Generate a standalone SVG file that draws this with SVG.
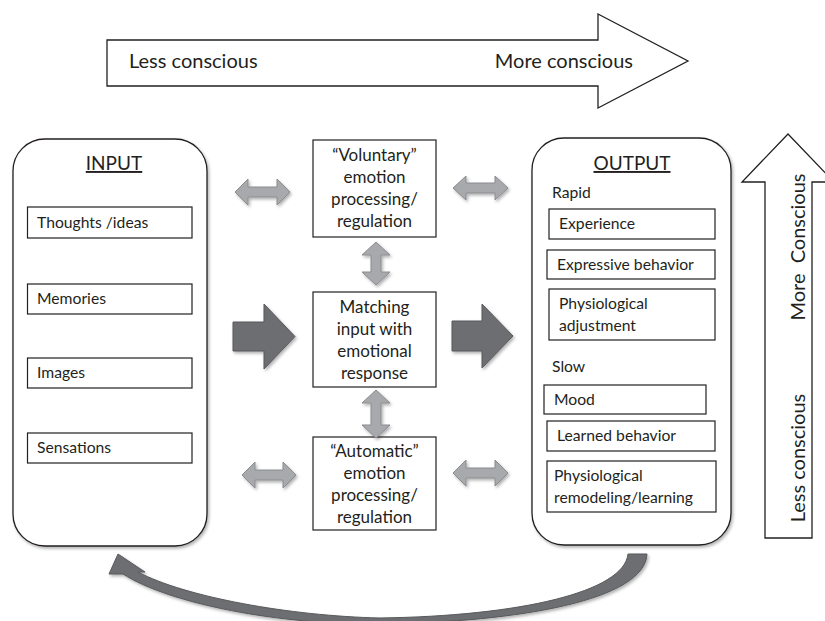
<svg xmlns="http://www.w3.org/2000/svg" width="825" height="621" viewBox="0 0 825 621">
<defs>
<filter id="sh" x="-20%" y="-20%" width="140%" height="140%">
<feDropShadow dx="1.5" dy="2" stdDeviation="1.5" flood-color="#000" flood-opacity="0.3"/>
</filter>
<style>
text{font-family:Lato,"Open Sans","Liberation Sans",sans-serif;fill:#231f20}
.t{font-size:15.7px}
.c{font-size:17px;text-anchor:middle}
.h{font-size:19px;text-anchor:middle;text-decoration:underline}
.big{font-size:20px}
.rot{font-size:20px;text-anchor:middle}
.box{fill:#fff;stroke:#231f20;stroke-width:1.2}
.panel{fill:#fff;stroke:#231f20;stroke-width:1.3}
.dbl{fill:#a7a9ac;stroke:#8a8c8f;stroke-width:1}
.dark{fill:#6d6e71;stroke:#58595b;stroke-width:1}
.outline{fill:#fff;stroke:#231f20;stroke-width:1.3}
</style>
</defs>

<g id="top-arrow">
<path class="outline" d="M107 40 L598 40 L598 14 L688 61 L598 108 L598 86 L107 86 Z"/>
<text class="big" x="129" y="68">Less conscious</text>
<text class="big" x="633" y="68" text-anchor="end">More conscious</text>
</g>

<g id="input">
<rect class="panel" x="13" y="139" width="194" height="407" rx="32" ry="32" filter="url(#sh)"/>
<text class="h" x="114" y="170">INPUT</text>
<g id="in-thoughts"><rect class="box" x="27.5" y="207" width="164.5" height="31"/><text class="t" x="37" y="228">Thoughts /ideas</text></g>
<g id="in-memories"><rect class="box" x="27.5" y="284" width="164.5" height="30"/><text class="t" x="37" y="304">Memories</text></g>
<g id="in-images"><rect class="box" x="27.5" y="358" width="164.5" height="30"/><text class="t" x="37" y="378">Images</text></g>
<g id="in-sensations"><rect class="box" x="27.5" y="433" width="164.5" height="30"/><text class="t" x="37" y="453">Sensations</text></g>
</g>

<g id="voluntary">
<rect class="box" x="313" y="140" width="123" height="97"/>
<text class="c" x="374.5" y="161">“Voluntary”</text>
<text class="c" x="374.5" y="183">emotion</text>
<text class="c" x="374.5" y="205">processing/</text>
<text class="c" x="374.5" y="227">regulation</text>
</g>

<g id="matching">
<rect class="box" x="313" y="292" width="123" height="95"/>
<text class="c" x="374.5" y="313">Matching</text>
<text class="c" x="374.5" y="335">input with</text>
<text class="c" x="374.5" y="357">emotional</text>
<text class="c" x="374.5" y="379">response</text>
</g>

<g id="automatic">
<rect class="box" x="313" y="437" width="123" height="93"/>
<text class="c" x="374.5" y="457">“Automatic”</text>
<text class="c" x="374.5" y="479">emotion</text>
<text class="c" x="374.5" y="501">processing/</text>
<text class="c" x="374.5" y="523">regulation</text>
</g>

<g id="output">
<rect class="panel" x="532" y="138" width="199" height="407" rx="32" ry="32" filter="url(#sh)"/>
<text class="h" x="632" y="170">OUTPUT</text>
<text class="t" x="552" y="198">Rapid</text>
<g id="out-experience"><rect class="box" x="549" y="209" width="166" height="30"/><text class="t" x="559" y="229">Experience</text></g>
<g id="out-expressive"><rect class="box" x="547" y="250" width="168" height="29"/><text class="t" x="557" y="270">Expressive behavior</text></g>
<g id="out-physadj"><rect class="box" x="549" y="289" width="166" height="51"/><text class="t" x="559" y="309">Physiological</text><text class="t" x="559" y="331">adjustment</text></g>
<text class="t" x="552" y="372">Slow</text>
<g id="out-mood"><rect class="box" x="544" y="385" width="162" height="29"/><text class="t" x="554" y="405">Mood</text></g>
<g id="out-learned"><rect class="box" x="547" y="421" width="168" height="30"/><text class="t" x="557" y="441">Learned behavior</text></g>
<g id="out-physrem"><rect class="box" x="547" y="461" width="169" height="51"/><text class="t" x="554" y="481">Physiological</text><text class="t" x="554" y="503">remodeling/learning</text></g>
</g>

<g id="side-arrow">
<path class="outline" d="M765 538 L765 182 L742 182 L788 134 L834 182 L812 182 L812 538 Z"/>
<text class="rot" x="805" y="247" transform="rotate(-90 805 247)" style="word-spacing:5px">More Conscious</text>
<text class="rot" x="805" y="458" transform="rotate(-90 805 458)">Less conscious</text>
</g>

<g id="connectors">
<g filter="url(#sh)">
<path class="dbl" d="M235 192 L248 179 L248 187 L277 187 L277 179 L290 192 L277 205 L277 197 L248 197 L248 205 Z"/>
<path class="dbl" d="M453 188 L466 176 L466 183 L495 183 L495 176 L508 188 L495 200 L495 193 L466 193 L466 200 Z"/>
<path class="dbl" d="M242 475 L255 462 L255 470 L283 470 L283 462 L296 475 L283 488 L283 480 L255 480 L255 488 Z"/>
<path class="dbl" d="M453 473 L466 460 L466 468 L495 468 L495 460 L508 473 L495 486 L495 478 L466 478 L466 486 Z"/>
<path class="dbl" d="M376 242 L390 255 L381 255 L381 272 L390 272 L376 285 L362 272 L371 272 L371 255 L362 255 Z"/>
<path class="dbl" d="M376 390 L390 403 L381 403 L381 425 L390 425 L376 438 L362 425 L371 425 L371 403 L362 403 Z"/>
<path class="dark" d="M233 322 L264 322 L264 304 L295 336.5 L264 369 L264 351 L233 351 Z"/>
<path class="dark" d="M452 321 L482 321 L482 304 L513 336 L482 368 L482 351 L452 351 Z"/>
<path class="dark" d="M647 554 C645 600 520 622 380 624 C280 625 170 604 123 574 L109 574 L118 554 L145 572 L138 572 C185 597 290 616 380 618 C520 616 624 592 628 554 Z"/>
</g>
</g>
</svg>
